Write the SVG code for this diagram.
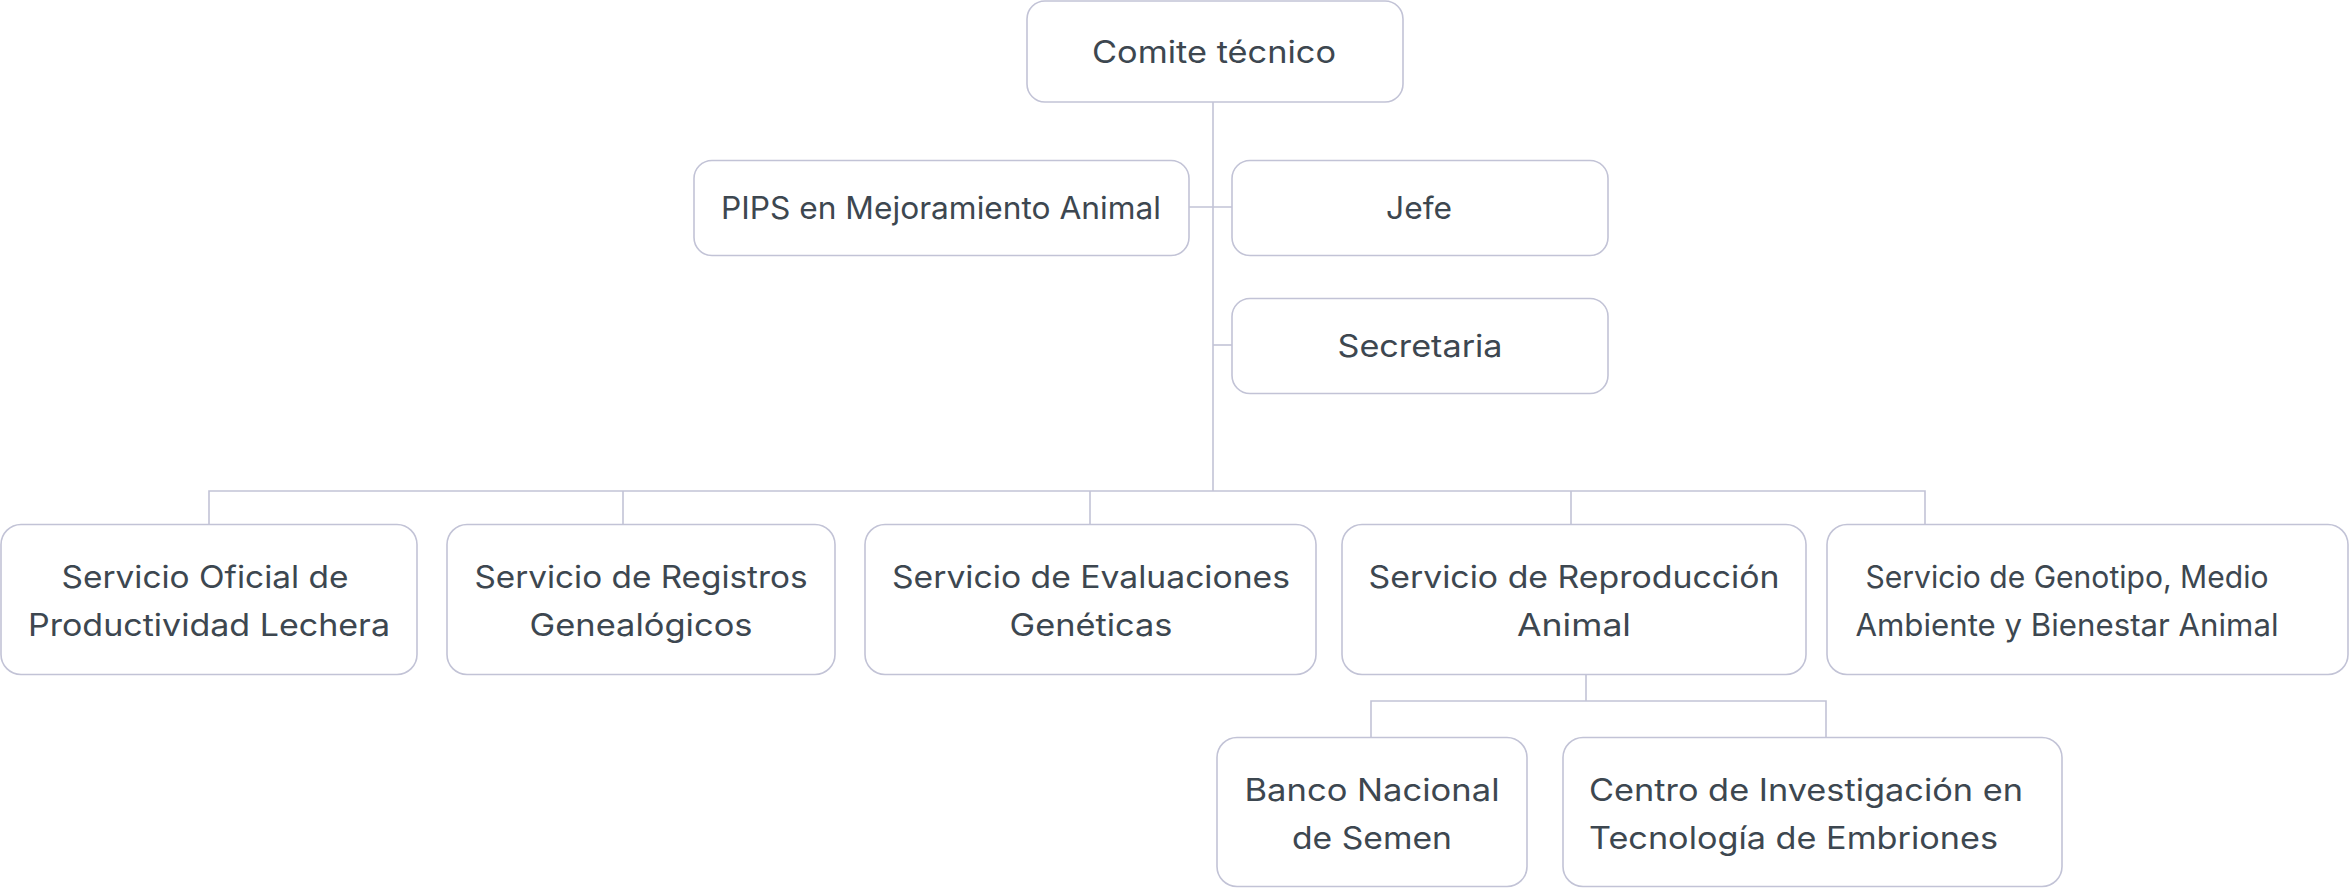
<svg xmlns="http://www.w3.org/2000/svg" width="2350" height="888" viewBox="0 0 2350 888">
<style>
.box{fill:#ffffff;stroke:#c2c3d6;stroke-width:1.6}
.ln{fill:none;stroke:#c2c3d6;stroke-width:1.6}
text{font-family:Inter,"Open Sans","Liberation Sans",sans-serif;font-size:31px;fill:#3d4750;text-anchor:middle}
.l{text-anchor:start}
</style>
<rect width="2350" height="888" fill="#ffffff"/>
<g id="connectors">
<path class="ln" d="M1213 102V491"/>
<path class="ln" d="M1189 207H1232"/>
<path class="ln" d="M1213 345H1232"/>
<path class="ln" d="M209 524V491H1925V524"/>
<path class="ln" d="M623 491V524"/>
<path class="ln" d="M1090 491V524"/>
<path class="ln" d="M1571 491V524"/>
<path class="ln" d="M1586 675V701"/>
<path class="ln" d="M1371 737V701H1826V737"/>
</g>
<g id="comite"><rect class="box" x="1027" y="1" width="376" height="101" rx="18"/><text x="1214" y="63" textLength="244" lengthAdjust="spacingAndGlyphs">Comite técnico</text></g>
<g id="pips"><rect class="box" x="694" y="160.5" width="495" height="95" rx="18"/><text x="941" y="219" textLength="440" lengthAdjust="spacingAndGlyphs">PIPS en Mejoramiento Animal</text></g>
<g id="jefe"><rect class="box" x="1232" y="160.5" width="376" height="95" rx="18"/><text x="1419" y="219" textLength="66" lengthAdjust="spacingAndGlyphs">Jefe</text></g>
<g id="secretaria"><rect class="box" x="1232" y="298.5" width="376" height="95" rx="18"/><text x="1420" y="357" textLength="165" lengthAdjust="spacingAndGlyphs">Secretaria</text></g>
<g id="oficial"><rect class="box" x="1" y="524.5" width="416" height="150" rx="20"/><text x="205" y="588" textLength="287" lengthAdjust="spacingAndGlyphs">Servicio Oficial de</text><text x="209" y="636" textLength="362" lengthAdjust="spacingAndGlyphs">Productividad Lechera</text></g>
<g id="registros"><rect class="box" x="447" y="524.5" width="388" height="150" rx="20"/><text x="641" y="588" textLength="333" lengthAdjust="spacingAndGlyphs">Servicio de Registros</text><text x="641" y="636" textLength="223" lengthAdjust="spacingAndGlyphs">Genealógicos</text></g>
<g id="evaluaciones"><rect class="box" x="865" y="524.5" width="451" height="150" rx="20"/><text x="1091" y="588" textLength="398" lengthAdjust="spacingAndGlyphs">Servicio de Evaluaciones</text><text x="1091" y="636" textLength="163" lengthAdjust="spacingAndGlyphs">Genéticas</text></g>
<g id="reproduccion"><rect class="box" x="1342" y="524.5" width="464" height="150" rx="20"/><text x="1574" y="588" textLength="411" lengthAdjust="spacingAndGlyphs">Servicio de Reproducción</text><text x="1574" y="636" textLength="114" lengthAdjust="spacingAndGlyphs">Animal</text></g>
<g id="genotipo"><rect class="box" x="1827" y="524.5" width="521" height="150" rx="20"/><text x="2067" y="588" textLength="403" lengthAdjust="spacingAndGlyphs">Servicio de Genotipo, Medio</text><text x="2067" y="636" textLength="423" lengthAdjust="spacingAndGlyphs">Ambiente y Bienestar Animal</text></g>
<g id="banco"><rect class="box" x="1217" y="737.5" width="310" height="149" rx="20"/><text x="1372" y="801" textLength="255" lengthAdjust="spacingAndGlyphs">Banco Nacional</text><text x="1372" y="849" textLength="160" lengthAdjust="spacingAndGlyphs">de Semen</text></g>
<g id="centro"><rect class="box" x="1563" y="737.5" width="499" height="149" rx="20"/><text class="l" x="1589" y="801" textLength="434" lengthAdjust="spacingAndGlyphs">Centro de Investigación en</text><text class="l" x="1589" y="849" textLength="409" lengthAdjust="spacingAndGlyphs">Tecnología de Embriones</text></g>
</svg>
